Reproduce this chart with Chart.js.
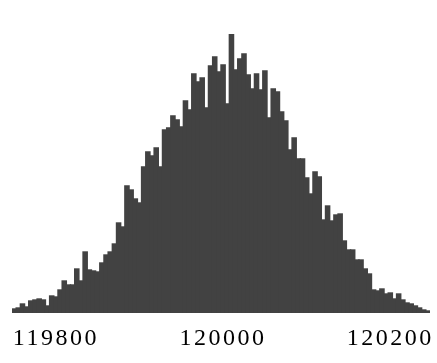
<!DOCTYPE html>
<html>
<head>
<meta charset="utf-8">
<style>
  html, body { margin: 0; padding: 0; background: #fff; }
  .chart-box { width: 437px; height: 363px; }
</style>
</head>
<body>
<div class="chart-box">
    <canvas id="histChart"></canvas>
</div>

<script src="https://cdn.jsdelivr.net/npm/chart.js"></script>
<script>
// Bin lower edges (width 5)
const bins = [
    119750, 119755, 119760, 119765, 119770, 119775, 119780, 119785, 119790, 119795,
    119800, 119805, 119810, 119815, 119820, 119825, 119830, 119835, 119840, 119845,
    119850, 119855, 119860, 119865, 119870, 119875, 119880, 119885, 119890, 119895,
    119900, 119905, 119910, 119915, 119920, 119925, 119930, 119935, 119940, 119945,
    119950, 119955, 119960, 119965, 119970, 119975, 119980, 119985, 119990, 119995,
    120000, 120005, 120010, 120015, 120020, 120025, 120030, 120035, 120040, 120045,
    120050, 120055, 120060, 120065, 120070, 120075, 120080, 120085, 120090, 120095,
    120100, 120105, 120110, 120115, 120120, 120125, 120130, 120135, 120140, 120145,
    120150, 120155, 120160, 120165, 120170, 120175, 120180, 120185, 120190, 120195,
    120200, 120205, 120210, 120215, 120220, 120225, 120230, 120235, 120240, 120245
];

// Counts per bin
const counts = [
    4, 5, 9, 6, 12, 13, 14, 13, 7, 17,
    16, 23, 32, 28, 28, 44, 32, 61, 43, 42,
    41, 50, 58, 61, 69, 90, 86, 127, 123, 114,
    110, 146, 161, 157, 165, 146, 183, 185, 197, 193,
    186, 212, 203, 239, 231, 235, 205, 247, 256, 241,
    248, 209, 279, 243, 254, 259, 238, 224, 239, 223,
    242, 195, 224, 221, 201, 192, 163, 175, 154, 154,
    135, 119, 141, 136, 93, 107, 92, 98, 99, 72,
    63, 63, 53, 53, 44, 39, 23, 22, 24, 19,
    20, 14, 19, 13, 10, 9, 7, 5, 3, 2
];

// Tick labels shown under the axis
const tickLabels = ['119800', '120000', '120200'];

const ctx = document.getElementById('histChart').getContext('2d');

// widen the scanned-looking digits a little
const spacingPlugin = {
    id: 'spacing',
    beforeDraw(chart) {
        chart.ctx.letterSpacing = '2.5px';
    }
};

const chart = new Chart(ctx, {
    type: 'bar',
    data: {
        labels: bins.map(String),
        datasets: [{
            data: counts,
            backgroundColor: '#424242',
            borderWidth: 0,
            inflateAmount: 0.7,
            barPercentage: 1,
            categoryPercentage: 1
        }]
    },
    options: {
        responsive: true,
        maintainAspectRatio: false,
        animation: false,
        events: [],
        layout: {
            padding: { top: 34, left: 12, right: 7, bottom: 0 }
        },
        plugins: {
            legend: { display: false },
            tooltip: { enabled: false }
        },
        scales: {
            x: {
                grid: { display: false, drawTicks: false },
                border: { display: false },
                ticks: {
                    autoSkip: false,
                    maxRotation: 0,
                    padding: 11,
                    color: '#000',
                    font: { family: '"Liberation Serif", "Times New Roman", serif', size: 24 },
                    callback: function(value) {
                        const lbl = this.getLabelForValue(value);
                        return tickLabels.includes(lbl) ? lbl : '';
                    }
                },
                afterFit(scale) {
                    scale.height = 50;
                    scale.paddingLeft = 0;
                    scale.paddingRight = 0;
                }
            },
            y: {
                display: false,
                min: 0,
                max: 279
            }
        }
    },
    plugins: [spacingPlugin]
});
</script>
</body>
</html>
